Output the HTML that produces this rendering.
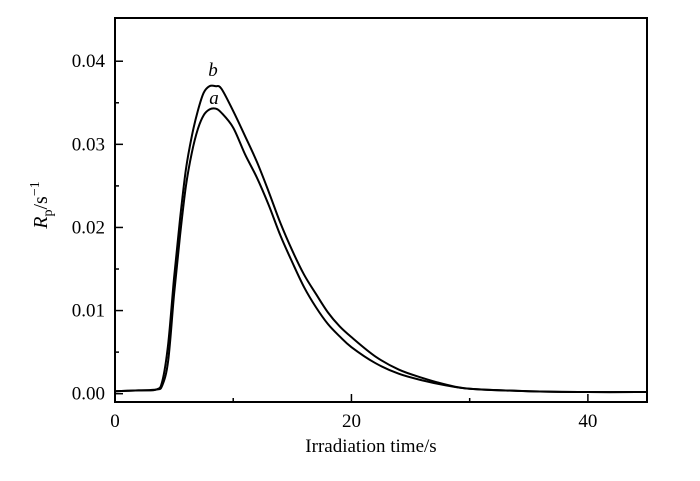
<!DOCTYPE html>
<html><head><meta charset="utf-8"><style>
html,body{margin:0;padding:0;background:#fff;}
svg{display:block;font-family:"Liberation Serif",serif;}
</style></head><body>
<svg id="chart" width="700" height="481" viewBox="0 0 700 481">
<g id="axes"></g>
<g id="series"></g>
<text x="371" y="452" font-size="19" text-anchor="middle">Irradiation time/s</text>
<text transform="translate(47,205) rotate(-90)" font-size="20" text-anchor="middle"><tspan font-style="italic">R</tspan><tspan font-size="14" dy="5">p</tspan><tspan dy="-5">/s</tspan><tspan font-size="14" dy="-8">−1</tspan></text>
<text x="213" y="76" font-size="19" font-style="italic" text-anchor="middle">b</text>
<text x="214" y="104" font-size="19" font-style="italic" text-anchor="middle">a</text>
</svg>
<script>
const xs=[0,2,3.5,4,4.5,5,5.5,6,6.5,7,7.5,8,8.5,9,10,11,12,13,14,15,16,17,18,19,20,22,24,26,28,30,35,40,45];
const seriesB=[0.0003,0.0004,0.0005,0.0015,0.006,0.014,0.021,0.027,0.031,0.034,0.0362,0.037,0.037,0.0367,0.034,0.031,0.0279,0.0243,0.0205,0.0172,0.0143,0.012,0.0098,0.0081,0.0068,0.0045,0.0029,0.0019,0.0011,0.0006,0.0003,0.0002,0.0002];
const seriesA=[0.0003,0.0004,0.0005,0.001,0.004,0.012,0.019,0.025,0.029,0.0318,0.0335,0.0342,0.0343,0.0338,0.032,0.0288,0.026,0.0227,0.019,0.0158,0.0128,0.0104,0.0084,0.0069,0.0056,0.0037,0.0024,0.0016,0.001,0.0006,0.0003,0.0002,0.0002];
const xTicks=[0,20,40];
const xMinor=[10,30];
const yTicks=[0,0.01,0.02,0.03,0.04];
const yTickLabels=["0.00","0.01","0.02","0.03","0.04"];
const yMinor=[0.005,0.015,0.025,0.035];
const L=115,R=647,T=18,B=402,X0=0,X1=45,Y0=-0.001,Y1=0.0452;
const sx=v=>L+(v-X0)/(X1-X0)*(R-L);
const sy=v=>B-(v-Y0)/(Y1-Y0)*(B-T);
const NS="http://www.w3.org/2000/svg";
const axes=document.getElementById('axes'),ser=document.getElementById('series');
function mk(tag,attrs,parent){const e=document.createElementNS(NS,tag);for(const k in attrs)e.setAttribute(k,attrs[k]);parent.appendChild(e);return e;}
const frame=mk('rect',{x:L,y:T,width:R-L,height:B-T,fill:'none',stroke:'#000','stroke-width':2},axes);


xTicks.forEach(v=>{
 const t=mk('line',{x1:sx(v),x2:sx(v),y1:B,y2:B-8,stroke:'#000','stroke-width':1.5},axes);
 
 
 const l=mk('text',{x:sx(v),y:B+25,'font-size':19,'text-anchor':'middle'},axes);l.textContent=v;
 
 
});
xMinor.forEach(v=>{
 const t=mk('line',{x1:sx(v),x2:sx(v),y1:B,y2:B-4,stroke:'#000','stroke-width':1.5},axes);
 
 
});
yTicks.forEach((v,i)=>{
 const t=mk('line',{x1:L,x2:L+8,y1:sy(v),y2:sy(v),stroke:'#000','stroke-width':1.5},axes);
 
 
 const l=mk('text',{x:L-10,y:sy(v)+6,'font-size':19,'text-anchor':'end'},axes);l.textContent=yTickLabels[i];
 
 
});
yMinor.forEach(v=>{
 const t=mk('line',{x1:L,x2:L+4,y1:sy(v),y2:sy(v),stroke:'#000','stroke-width':1.5},axes);
 
 
});
function pathFor(ys){
 const p=xs.map((x,i)=>[sx(x),sy(ys[i])]);
 let d='M'+p[0][0]+','+p[0][1];
 for(let i=0;i<p.length-1;i++){
  const p0=p[Math.max(0,i-1)],p1=p[i],p2=p[i+1],p3=p[Math.min(p.length-1,i+2)];
  const c1=[p1[0]+(p2[0]-p0[0])/6,p1[1]+(p2[1]-p0[1])/6];
  const c2=[p2[0]-(p3[0]-p1[0])/6,p2[1]-(p3[1]-p1[1])/6];
  d+=' C'+c1+' '+c2+' '+p2;
 }
 return d;
}
const lb=mk('path',{d:pathFor(seriesB),fill:'none',stroke:'#000','stroke-width':2},ser);


const la=mk('path',{d:pathFor(seriesA),fill:'none',stroke:'#000','stroke-width':2},ser);


</script>
</body></html>
